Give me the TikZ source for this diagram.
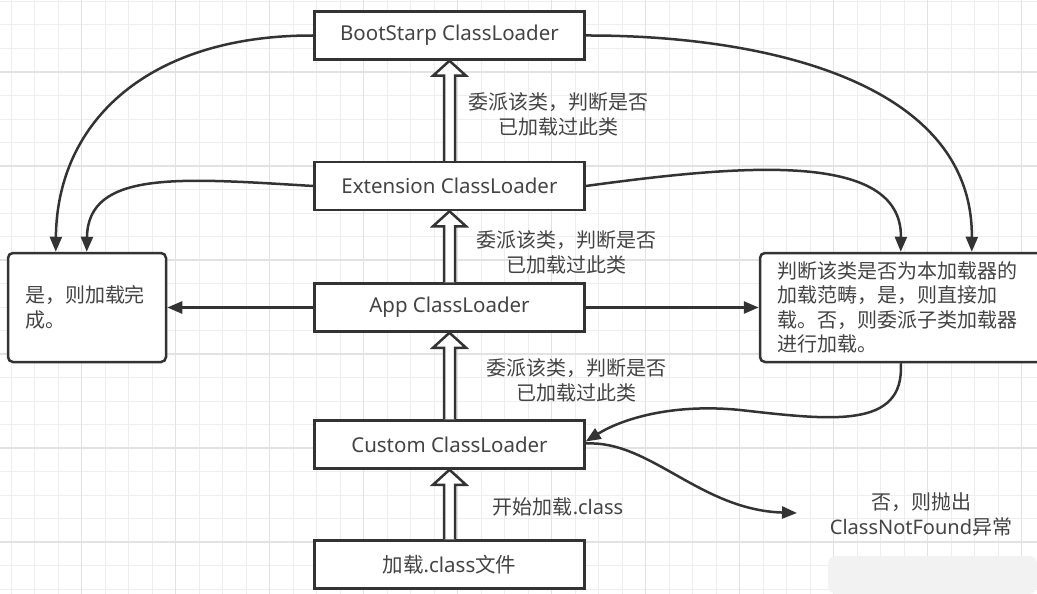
\documentclass[tikz,border=0pt]{standalone}
\usepackage{fontspec}
\setmainfont{Noto Sans}
\newfontfamily\cjk{Noto Sans CJK SC}
\usetikzlibrary{arrows.meta,calc}
\definecolor{ln}{HTML}{333333}
\definecolor{tx}{HTML}{444444}
\definecolor{gminor}{HTML}{EEEEEE}
\definecolor{gmajor}{HTML}{E2E2E2}
\tikzset{
  box/.style={draw=ln, line width=2.5pt, fill=white, minimum width=270pt, minimum height=48pt, inner sep=0pt, text=tx, font=\fontsize{20.5}{25}\selectfont},
  rbox/.style={draw=ln, line width=2.5pt, fill=white, rounded corners=5pt, inner xsep=17pt, inner ysep=0pt, align=left, text=tx, font=\fontsize{20}{24.5}\selectfont},
  lbl/.style={text=tx, align=center, inner sep=0pt, font=\fontsize{20}{25}\selectfont},
  conn/.style={draw=ln, line width=2.5pt, -{Triangle[length=15pt,width=12pt]}},
  hollow/.style={draw=ln, line width=2.5pt, fill=white, line join=miter},
}
\begin{document}
\begin{tikzpicture}[x=1pt,y=-1pt]
\clip (0,0) rectangle (1037,594);
\fill[white] (0,0) rectangle (1037,594);
% grid
\foreach \i in {0,...,44} {
  \pgfmathsetmacro\xx{11+23.5*\i}
  \draw[gminor, line width=1pt] (\xx,0) -- (\xx,594);
}
\foreach \i in {0,...,25} {
  \pgfmathsetmacro\yy{1.5+23.5*\i}
  \draw[gminor, line width=1pt] (0,\yy) -- (1037,\yy);
}
\foreach \i in {0,...,10} {
  \pgfmathsetmacro\xx{81.5+94*\i}
  \draw[gmajor, line width=1.2pt] (\xx,0) -- (\xx,594);
}
\foreach \i in {0,...,5} {
  \pgfmathsetmacro\yy{72+94*\i}
  \draw[gmajor, line width=1.2pt] (0,\yy) -- (1037,\yy);
}
% blurred watermark patch
\fill[gray!10, rounded corners=8pt] (828,556) rectangle (1037,594);

% main boxes
\node[box] (boot) at (449.5,35.5) {BootStarp ClassLoader};
\node[box] (ext)  at (449.5,186) {Extension ClassLoader};
\node[box] (app)  at (449.5,307.5) {App ClassLoader};
\node[box] (cust) at (449.5,444.5) {Custom ClassLoader};
\node[box] (file) at (449.5,564.5) {{\cjk 加载}.class{\cjk 文件}};

% side boxes
\node[rbox, text width=124pt, minimum height=109pt] (lb) at (87,307.5)
  {{\cjk 是，则加载完}\\{\cjk 成。}};
\node[rbox, text width=266pt, minimum height=109pt] (rb) at (910,307.5)
  {{\cjk 判断该类是否为本加载器的}\\{\cjk 加载范畴，是，则直接加}\\{\cjk 载。否，则委派子类加载器}\\{\cjk 进行加载。}};

% labels
\node[lbl] (l1) at (558,114) {{\cjk 委派该类，判断是否}\\{\cjk 已加载过此类}};
\node[lbl] (l2) at (566,252) {{\cjk 委派该类，判断是否}\\{\cjk 已加载过此类}};
\node[lbl] (l3) at (576,380) {{\cjk 委派该类，判断是否}\\{\cjk 已加载过此类}};
\node[lbl] (l4) at (558,507) {{\cjk 开始加载}.class};
\node[lbl] (l5) at (921,514) {{\cjk 否，则抛出}\\ClassNotFound{\cjk 异常}};

% hollow block arrows
\foreach \lo/\up in {file/cust, cust/app, app/ext, ext/boot} {
  \draw[hollow] ($(\lo.north)+(-5.5,0)$) -- ($(\up.south)+(-5.5,15)$) -- ($(\up.south)+(-16.5,15)$)
    -- (\up.south) -- ($(\up.south)+(16.5,15)$) -- ($(\up.south)+(5.5,15)$) -- ($(\lo.north)+(5.5,0)$);
}

% connectors
\coordinate (lbA) at ($(lb.north west)+(49,0)$);
\coordinate (lbB) at ($(lb.north west)+(80,0)$);
\coordinate (rbA) at ($(rb.north west)+(142,0)$);
\coordinate (rbB) at ($(rb.north west)+(213,0)$);
\coordinate (rbC) at ($(rb.south west)+(142,0)$);
\coordinate (cnf) at (797,513);

\draw[conn] (boot.west) .. controls (150,35) and (57,120) .. (lbA);
\draw[conn] (ext.west) .. controls (180,178) and (88,170) .. (lbB);
\draw[conn] (boot.east) .. controls (760,35) and (973,80) .. (rbB);
\draw[conn] (ext.east) .. controls (740,165) and (902,150) .. (rbA);
\draw[conn] (app.west) -- (lb.east);
\draw[conn] (app.east) -- (rb.west);
\draw[conn] (rbC) .. controls (905,430) and (830,420) .. (740,410)
  .. controls (670,403) and (620,420) .. ($(cust.east)+(0,-3)$);
\draw[conn] ($(cust.east)+(0,-1)$) .. controls (650,440) and (700,510) .. (cnf);
\end{tikzpicture}
\end{document}
